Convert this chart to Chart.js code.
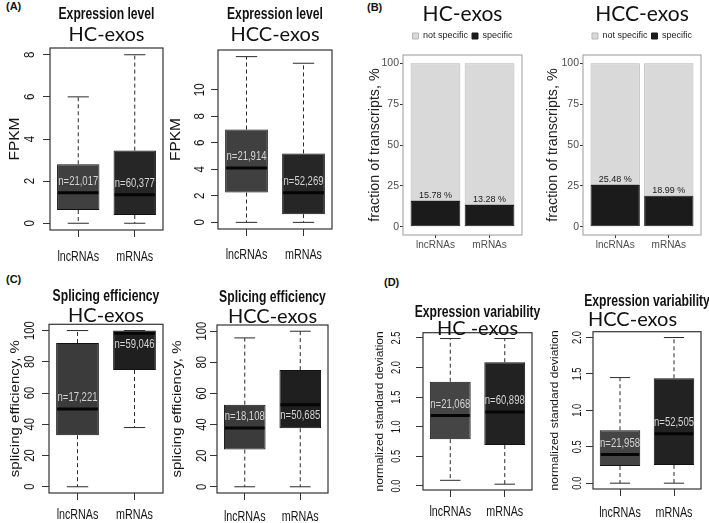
<!DOCTYPE html>
<html>
<head>
<meta charset="utf-8">
<script src="https://cdn.jsdelivr.net/npm/chart.js@4.4.0/dist/chart.umd.min.js"></script>
<style>
  body { margin: 0; background: #fff; width: 709px; height: 523px; position: relative; overflow: hidden; }
  canvas { position: absolute; }
  .tag { position: absolute; font: bold 11px 'Liberation Sans', Arial, sans-serif; color: #111; }
</style>
</head>
<body>
<div class="tag" style="left:6px;top:0px">(A)</div>
<div class="tag" style="left:367px;top:1px">(B)</div>
<div class="tag" style="left:6px;top:273px">(C)</div>
<div class="tag" style="left:384px;top:276px">(D)</div>

<canvas id="aHc" width="166" height="265" style="left:0;top:0"></canvas>
<canvas id="aHcc" width="184" height="265" style="left:166px;top:0"></canvas>
<canvas id="bHc" width="175" height="265" style="left:355px;top:0"></canvas>
<canvas id="bHcc" width="179" height="265" style="left:530px;top:0"></canvas>
<canvas id="cHc" width="166" height="258" style="left:0;top:265px"></canvas>
<canvas id="cHcc" width="184" height="258" style="left:166px;top:265px"></canvas>
<canvas id="dHc" width="188" height="258" style="left:355px;top:265px"></canvas>
<canvas id="dHcc" width="166" height="258" style="left:543px;top:265px"></canvas>

<script>
const categories = ['lncRNAs', 'mRNAs'];

// (A) expression level (FPKM)
const exprHcMin = [0, 0];
const exprHcQ1 = [0.63, 0.39];
const exprHcMed = [1.45, 1.35];
const exprHcQ3 = [2.8, 3.45];
const exprHcMax = [6, 8];
const exprHcN = ['n=21,017', 'n=60,377'];
const exprHcTicks = [0, 2, 4, 6, 8];

const exprHccMin = [0, 0];
const exprHccQ1 = [2.25, 0.62];
const exprHccMed = [4.1, 2.23];
const exprHccQ3 = [7.0, 5.2];
const exprHccMax = [12.5, 12];
const exprHccN = ['n=21,914', 'n=52,269'];
const exprHccTicks = [0, 2, 4, 6, 8, 10];

// (B) fraction of transcripts, %
const specHc = [15.78, 13.28];
const notSpecHc = [84.22, 86.72];
const specHcc = [25.48, 18.99];
const notSpecHcc = [74.52, 81.01];
const fracTicks = [0, 25, 50, 75, 100];

// (C) splicing efficiency, %
const spliceHcMin = [0, 37.9];
const spliceHcQ1 = [33, 74.7];
const spliceHcMed = [49.8, 98.3];
const spliceHcQ3 = [92, 100];
const spliceHcMax = [100, 100];
const spliceHcN = ['n=17,221', 'n=59,046'];

const spliceHccMin = [0, 0];
const spliceHccQ1 = [23.9, 37.6];
const spliceHccMed = [37.8, 52.8];
const spliceHccQ3 = [52.8, 75];
const spliceHccMax = [95.7, 100];
const spliceHccN = ['n=18,108', 'n=50,685'];
const spliceTicks = [0, 20, 40, 60, 80, 100];

// (D) normalized standard deviation
const varHcMin = [0.095, 0.03];
const varHcQ1 = [0.79, 0.69];
const varHcMed = [1.19, 1.25];
const varHcQ3 = [1.76, 2.09];
const varHcMax = [2.49, 2.49];
const varHcN = ['n=21,068', 'n=60,898'];
const varHcTicks = [0, 0.5, 1, 1.5, 2, 2.5];

const varHccMin = [0, 0];
const varHccQ1 = [0.236, 0.25];
const varHccMed = [0.395, 0.677];
const varHccQ3 = [0.727, 1.44];
const varHccMax = [1.45, 2.0];
const varHccN = ['n=21,958', 'n=52,505'];
const varHccTicks = [0, 0.5, 1, 1.5, 2];

const SANS = "'Liberation Sans', Arial, sans-serif";
Chart.defaults.font.family = SANS;

function seg(ctx, x1, y1, x2, y2) {
  ctx.beginPath();
  ctx.moveTo(x1, y1);
  ctx.lineTo(x2, y2);
  ctx.stroke();
}

// the R panels look squeezed sideways, so their text is drawn condensed
function squeezed(ctx, text, x, y, font, sx, sy, rotate) {
  ctx.save();
  ctx.translate(x, y);
  if (rotate) ctx.rotate(-Math.PI / 2);
  ctx.scale(sx, sy);
  ctx.font = font;
  ctx.fillText(text, 0, 0);
  ctx.restore();
}

function makeBoxPlugin(cfg) {
  const g = cfg.geom;
  return {
    id: 'boxExtras',
    afterDatasetsDraw(chart) {
      const { ctx, chartArea: ca } = chart;
      const y = chart.scales.y, x = chart.scales.x;
      const py = v => y.getPixelForValue(v);
      const bars = chart.getDatasetMeta(0).data;
      ctx.save();
      ctx.textAlign = 'center';
      ctx.textBaseline = 'middle';
      bars.forEach((bar, i) => {
        const bx = bar.x, hw = bar.width / 2;
        ctx.strokeStyle = '#2a2a2a';
        ctx.lineWidth = 1;
        ctx.setLineDash([4, 3]);
        seg(ctx, bx, py(cfg.q3[i]), bx, py(cfg.max[i]));
        seg(ctx, bx, py(cfg.q1[i]), bx, py(cfg.min[i]));
        ctx.setLineDash([]);
        seg(ctx, bx - hw / 2, py(cfg.max[i]), bx + hw / 2, py(cfg.max[i]));
        seg(ctx, bx - hw / 2, py(cfg.min[i]), bx + hw / 2, py(cfg.min[i]));
        ctx.lineWidth = 3;
        ctx.strokeStyle = '#050505';
        seg(ctx, bx - hw + 1, py(cfg.med[i]), bx + hw - 1, py(cfg.med[i]));
        ctx.fillStyle = '#d4d4d4';
        const below = cfg.nBelow && cfg.nBelow[i];
        squeezed(ctx, cfg.n[i], bx, py(cfg.med[i]) + (below ? 11 : -11), '12.5px ' + SANS, 0.76, 1, false);
      });
      ctx.lineWidth = 1.2;
      ctx.strokeStyle = '#333';
      ctx.strokeRect(ca.left, ca.top, ca.width, ca.height);

      ctx.fillStyle = '#151515';
      // y tick labels parallel to the axis, like base R
      y.ticks.forEach(t => {
        squeezed(ctx, t.value.toFixed(cfg.dec), ca.left - g.tickGap, py(t.value),
          cfg.tickSize + 'px ' + SANS, cfg.tickSx, 1, true);
      });
      // category labels under the tick marks
      categories.forEach((c, i) => {
        squeezed(ctx, c, x.getPixelForValue(i), ca.bottom + g.xLab, '14.5px ' + SANS, 0.74, 1, false);
      });
      // y axis title
      squeezed(ctx, cfg.yTitle, g.yTitleX, (ca.top + ca.bottom) / 2,
        cfg.yTitleSize + 'px ' + SANS, 1, 0.9, true);
      ctx.restore();
    },
    afterDraw(chart) {
      const { ctx, chartArea: ca } = chart;
      ctx.save();
      ctx.fillStyle = '#111';
      ctx.textBaseline = 'middle';
      ctx.textAlign = 'center';
      const cx = (ca.left + ca.right) / 2;
      squeezed(ctx, cfg.title, cx, g.titleY, 'bold 16px ' + SANS, 0.76, 1, false);
      ctx.font = '20px Lato';
      if (cfg.subAlign === 'start') {
        ctx.textAlign = 'left';
        ctx.fillText(cfg.sub, ca.left - 5, g.subY);
      } else {
        ctx.fillText(cfg.sub, cx, g.subY);
      }
      ctx.restore();
    }
  };
}

function boxChart(id, cfg) {
  const canvas = document.getElementById(id);
  const W = canvas.width, H = canvas.height;
  const g = cfg.geom;
  const lo = Math.min(...cfg.min), hi = Math.max(...cfg.max);
  const ext = (hi - lo) * 0.04;
  return new Chart(canvas, {
    type: 'bar',
    data: {
      labels: categories,
      datasets: [{
        data: cfg.q1.map((v, i) => [v, cfg.q3[i]]),
        backgroundColor: cfg.colors,
        borderColor: '#111',
        borderWidth: 1,
        borderSkipped: false,
        categoryPercentage: 1,
        barPercentage: 0.75
      }]
    },
    options: {
      responsive: false,
      animation: false,
      layout: { padding: { top: g.top, left: 0, bottom: 0, right: W - g.right } },
      plugins: { legend: { display: false }, tooltip: { enabled: false } },
      scales: {
        x: {
          offset: true,
          afterFit: s => { s.height = H - g.bottom; s.paddingLeft = 0; s.paddingRight = 0; },
          grid: { display: true, offset: false, drawOnChartArea: false, drawTicks: true, tickLength: 7, color: '#333' },
          border: { display: false },
          ticks: { display: false }
        },
        y: {
          min: lo - ext,
          max: hi + ext,
          bounds: 'data',
          afterBuildTicks: s => { s.ticks = cfg.ticks.map(v => ({ value: v })); },
          afterFit: s => { s.width = g.left; s.paddingTop = 0; s.paddingBottom = 0; },
          grid: { display: true, drawOnChartArea: false, drawTicks: true, tickLength: 7, color: '#333' },
          border: { display: false },
          ticks: { display: false }
        }
      }
    },
    plugins: [makeBoxPlugin(cfg)]
  });
}

function makeFracPlugin(spec) {
  return {
    id: 'fracExtras',
    afterDatasetsDraw(chart) {
      const { ctx } = chart;
      const bars = chart.getDatasetMeta(0).data;
      ctx.save();
      ctx.fillStyle = '#1a1a1a';
      ctx.font = '9px ' + SANS;
      ctx.textAlign = 'center';
      ctx.textBaseline = 'alphabetic';
      bars.forEach((bar, i) => {
        ctx.fillText(spec[i].toFixed(2) + ' %', bar.x, bar.y - 3);
      });
      ctx.restore();
    },
    afterDraw(chart) {
      const { ctx, chartArea: ca } = chart;
      ctx.save();
      ctx.strokeStyle = '#9a9a9a';
      ctx.lineWidth = 1;
      ctx.strokeRect(ca.left, ca.top, ca.width, ca.height);
      ctx.restore();
    }
  };
}

function fracChart(id, cfg) {
  const canvas = document.getElementById(id);
  const W = canvas.width, H = canvas.height;
  const g = cfg.geom;
  return new Chart(canvas, {
    type: 'bar',
    data: {
      datasets: [
        {
          label: 'specific',
          data: cfg.spec.map((v, i) => ({ x: i + 1, y: v })),
          backgroundColor: '#1b1b1b',
          borderColor: '#1b1b1b',
          borderWidth: 1
        },
        {
          label: 'not specific',
          data: cfg.notSpec.map((v, i) => ({ x: i + 1, y: v })),
          backgroundColor: '#d9d9d9',
          borderColor: '#b5b5b5',
          borderWidth: 1
        }
      ]
    },
    options: {
      responsive: false,
      animation: false,
      datasets: { bar: { barPercentage: 0.92, categoryPercentage: 1, borderSkipped: false } },
      layout: { padding: { top: 0, left: 0, bottom: 0, right: W - g.right } },
      plugins: {
        tooltip: { enabled: false },
        title: {
          display: true,
          text: cfg.title,
          fullSize: false,
          color: '#111',
          font: { family: 'Lato', size: 21, weight: 'normal', lineHeight: 1 },
          padding: { top: 4, bottom: 2.5 }
        },
        legend: {
          display: true,
          position: 'top',
          fullSize: false,
          reverse: true,
          labels: { boxWidth: 6, boxHeight: 6, padding: 4, color: '#222', font: { size: 9 } }
        }
      },
      scales: {
        x: {
          type: 'linear',
          offset: false,
          min: 0.4,
          max: 2.6,
          stacked: true,
          afterBuildTicks: s => { s.ticks = categories.map((c, i) => ({ value: i + 1 })); },
          afterFit: s => { s.height = H - g.bottom; s.paddingLeft = 0; s.paddingRight = 0; },
          grid: { display: true, offset: false, drawOnChartArea: false, drawTicks: true, tickLength: 3, color: '#333' },
          border: { display: false },
          ticks: { color: '#4d4d4d', font: { size: 10 }, padding: 1, maxRotation: 0, autoSkip: false, callback: v => categories[v - 1] }
        },
        y: {
          min: -5,
          max: 105,
          stacked: true,
          afterBuildTicks: s => { s.ticks = fracTicks.map(v => ({ value: v })); },
          afterFit: s => { s.width = g.left; s.paddingTop = 0; s.paddingBottom = 0; },
          grid: { display: true, drawOnChartArea: false, drawTicks: true, tickLength: 3, color: '#333' },
          border: { display: false },
          ticks: { color: '#4d4d4d', font: { size: 10.5 }, padding: 1 },
          title: {
            display: true,
            text: 'fraction of transcripts, %',
            color: '#222',
            font: { size: 14.3, lineHeight: 1 },
            padding: { top: g.yTitleX - 7.15, bottom: 0 }
          }
        },
        gap: {
          type: 'linear',
          axis: 'x',
          position: 'top',
          display: true,
          grid: { display: false },
          ticks: { display: false },
          border: { display: false },
          afterFit: s => { s.height = 4.5; s.paddingLeft = 0; s.paddingRight = 0; }
        }
      }
    },
    plugins: [makeFracPlugin(cfg.spec)]
  });
}

boxChart('aHc', {
  min: exprHcMin, q1: exprHcQ1, med: exprHcMed, q3: exprHcQ3, max: exprHcMax, n: exprHcN,
  ticks: exprHcTicks, dec: 0, tickSize: 14, tickSx: 0.82,
  colors: ['#404040', '#262626'],
  title: 'Expression level', sub: 'HC-exos', yTitle: 'FPKM', yTitleSize: 15.5,
  geom: { left: 50, right: 163, top: 48, bottom: 230, titleY: 15, subY: 35, yTitleX: 15, tickGap: 20, xLab: 27 }
});

boxChart('aHcc', {
  min: exprHccMin, q1: exprHccQ1, med: exprHccMed, q3: exprHccQ3, max: exprHccMax, n: exprHccN,
  ticks: exprHccTicks, dec: 0, tickSize: 14, tickSx: 0.82,
  colors: ['#404040', '#262626'],
  title: 'Expression level', sub: 'HCC-exos', yTitle: 'FPKM', yTitleSize: 15.5,
  geom: { left: 52, right: 166, top: 50, bottom: 229, titleY: 15, subY: 35, yTitleX: 10, tickGap: 18, xLab: 26 }
});

fracChart('bHc', {
  spec: specHc, notSpec: notSpecHc, title: 'HC-exos',
  geom: { left: 48, right: 167, bottom: 235, yTitleX: 20 }
});

fracChart('bHcc', {
  spec: specHcc, notSpec: notSpecHcc, title: 'HCC-exos',
  geom: { left: 53, right: 171, bottom: 235, yTitleX: 23 }
});

boxChart('cHc', {
  min: spliceHcMin, q1: spliceHcQ1, med: spliceHcMed, q3: spliceHcQ3, max: spliceHcMax, n: spliceHcN,
  nBelow: [false, true],
  ticks: spliceTicks, dec: 0, tickSize: 14, tickSx: 0.8,
  colors: ['#3b3b3b', '#1f1f1f'],
  title: 'Splicing efficiency', sub: 'HC-exos', yTitle: 'splicing efficiency, %', yTitleSize: 15,
  geom: { left: 49, right: 163, top: 59.3, bottom: 228, titleY: 31.7, subY: 50.7, yTitleX: 15, tickGap: 19, xLab: 22 }
});

boxChart('cHcc', {
  min: spliceHccMin, q1: spliceHccQ1, med: spliceHccMed, q3: spliceHccQ3, max: spliceHccMax, n: spliceHccN,
  nBelow: [false, true],
  ticks: spliceTicks, dec: 0, tickSize: 14, tickSx: 0.8,
  colors: ['#3b3b3b', '#1f1f1f'],
  title: 'Splicing efficiency', sub: 'HCC-exos', yTitle: 'splicing efficiency, %', yTitleSize: 15,
  geom: { left: 51, right: 162, top: 60, bottom: 228, titleY: 32.3, subY: 51.7, yTitleX: 11, tickGap: 15, xLab: 24 }
});

boxChart('dHc', {
  min: varHcMin, q1: varHcQ1, med: varHcMed, q3: varHcQ3, max: varHcMax, n: varHcN,
  ticks: varHcTicks, dec: 1, tickSize: 12.5, tickSx: 0.75,
  colors: ['#454545', '#222222'],
  title: 'Expression variability', sub: 'HC -exos', yTitle: 'normalized standard deviation', yTitleSize: 12,
  geom: { left: 68, right: 177, top: 67.7, bottom: 225, titleY: 47.7, subY: 64, yTitleX: 25, tickGap: 26, xLab: 22 }
});

boxChart('dHcc', {
  min: varHccMin, q1: varHccQ1, med: varHccMed, q3: varHccQ3, max: varHccMax, n: varHccN,
  ticks: varHccTicks, dec: 1, tickSize: 12.5, tickSx: 0.75,
  colors: ['#454545', '#222222'],
  title: 'Expression variability', sub: 'HCC-exos', subAlign: 'start', yTitle: 'normalized standard deviation', yTitleSize: 12,
  geom: { left: 50, right: 158, top: 66.7, bottom: 224, titleY: 36.7, subY: 55, yTitleX: 12, tickGap: 15, xLab: 24 }
});
</script>
</body>
</html>
